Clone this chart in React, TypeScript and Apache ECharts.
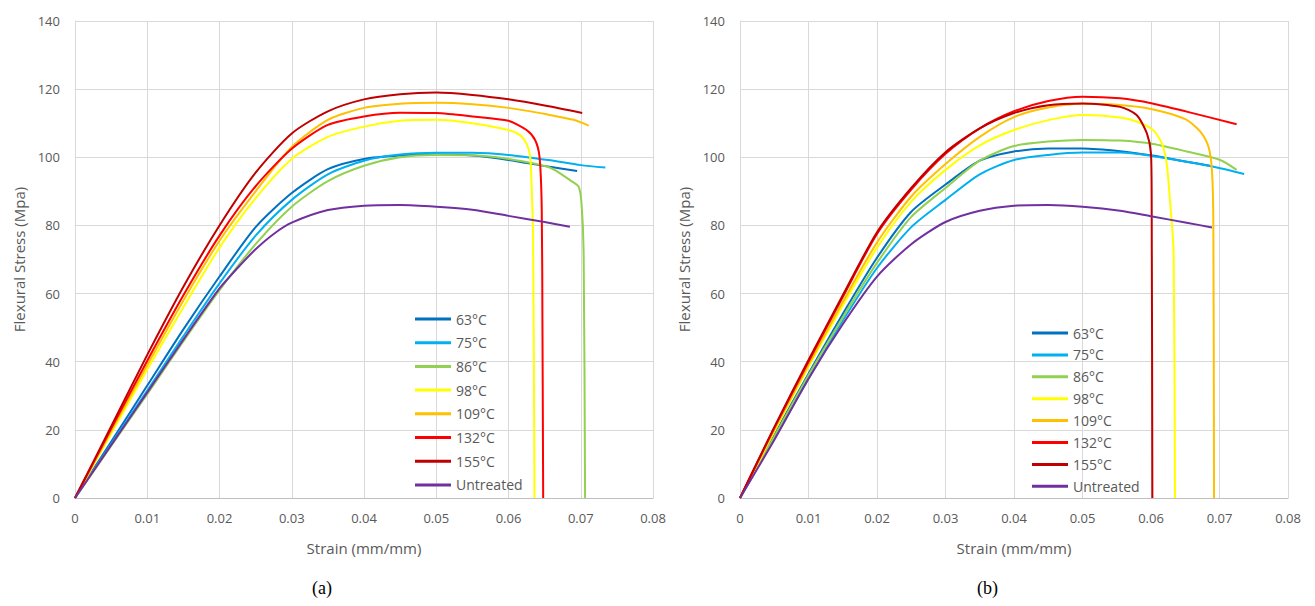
import React, { useEffect, useRef } from "react";
import * as echarts from "echarts";

// ---------- Data (strain mm/mm, flexural stress MPa) ----------
const seriesNames = ["63°C", "75°C", "86°C", "98°C", "109°C", "132°C", "155°C", "Untreated"];
const seriesColors = ["#0070C0", "#00B0F0", "#92D050", "#FFFF00", "#FFC000", "#FF0000", "#C00000", "#7030A0"];
const xTicks = [0, 0.01, 0.02, 0.03, 0.04, 0.05, 0.06, 0.07, 0.08];
const yTicks = [0, 20, 40, 60, 80, 100, 120, 140];

// Chart (a)
const a63 = [[0, 0], [0.005, 16.5], [0.01, 33], [0.015, 49.5], [0.02, 65], [0.025, 79.5], [0.03, 89.5], [0.035, 96.5], [0.04, 99.5], [0.045, 100.5], [0.05, 100.8], [0.055, 100.5], [0.06, 99.2], [0.0657, 97.2], [0.0695, 96]];
const a75 = [[0, 0], [0.005, 15.8], [0.01, 31.5], [0.015, 47.5], [0.02, 63], [0.025, 77], [0.03, 87.5], [0.035, 95], [0.04, 99], [0.045, 100.8], [0.05, 101.3], [0.055, 101.3], [0.06, 100.7], [0.0655, 99.2], [0.07, 97.7], [0.0734, 97]];
const a86 = [[0, 0], [0.005, 15.3], [0.01, 30.5], [0.015, 46], [0.02, 61], [0.025, 74.5], [0.03, 85.5], [0.035, 93], [0.04, 97.5], [0.045, 100], [0.05, 100.7], [0.055, 100.6], [0.06, 99.5], [0.0657, 97], [0.0685, 93.3], [0.0697, 91.4], [0.0701, 86.6], [0.0704, 72], [0.0706, 0]];
const a98 = [[0, 0], [0.005, 18.9], [0.01, 37.7], [0.015, 56], [0.02, 73.5], [0.025, 88], [0.03, 99.5], [0.035, 106], [0.04, 109], [0.045, 110.7], [0.05, 111], [0.055, 110], [0.06, 108], [0.0616, 106.5], [0.0625, 104], [0.063, 100.2], [0.0632, 91.4], [0.0634, 76.7], [0.0636, 0]];
const a109 = [[0, 0], [0.005, 19.6], [0.01, 39], [0.015, 58], [0.02, 75.5], [0.025, 90], [0.03, 103], [0.035, 111], [0.04, 114.5], [0.045, 115.7], [0.05, 116], [0.055, 115.6], [0.06, 114.5], [0.0653, 112.6], [0.069, 111], [0.0711, 109.3]];
const a132 = [[0, 0], [0.005, 20.3], [0.01, 40.3], [0.015, 59.5], [0.02, 77], [0.025, 91.5], [0.03, 102.5], [0.035, 109.5], [0.04, 112], [0.045, 113.1], [0.05, 113], [0.055, 112], [0.06, 110.7], [0.0625, 108], [0.0637, 105], [0.0643, 100], [0.0646, 85], [0.0647, 50], [0.0648, 0]];
const a155 = [[0, 0], [0.005, 21], [0.01, 42], [0.015, 62], [0.02, 80], [0.025, 95.5], [0.03, 107], [0.035, 113.5], [0.04, 117], [0.045, 118.5], [0.05, 119], [0.055, 118.3], [0.06, 117], [0.065, 115.2], [0.0702, 113]];
const aUnt = [[0, 0], [0.005, 15.5], [0.01, 31], [0.015, 46.5], [0.02, 61.5], [0.0225, 67.5], [0.025, 73], [0.0275, 77.5], [0.03, 80.8], [0.035, 84.5], [0.04, 85.8], [0.045, 86], [0.05, 85.5], [0.055, 84.6], [0.06, 82.8], [0.065, 81], [0.0685, 79.6]];

// Chart (b)
const b63 = [[0, 0], [0.005, 18.5], [0.01, 36.5], [0.015, 54], [0.02, 70.5], [0.025, 84], [0.03, 92], [0.035, 99], [0.04, 101.7], [0.045, 102.6], [0.05, 102.6], [0.0555, 101.8], [0.0602, 100.5], [0.0652, 98.7], [0.0686, 97.5]];
const b75 = [[0, 0], [0.005, 17.5], [0.01, 35], [0.015, 52], [0.02, 67.5], [0.025, 79.5], [0.03, 87.5], [0.035, 95], [0.04, 99.2], [0.045, 100.7], [0.05, 101.4], [0.0555, 101.4], [0.0602, 100.4], [0.0652, 98.7], [0.0701, 96.8], [0.0736, 95.1]];
const b86 = [[0, 0], [0.005, 18], [0.01, 36], [0.015, 53], [0.02, 69], [0.025, 82.5], [0.03, 91], [0.035, 99], [0.04, 103.3], [0.045, 104.6], [0.05, 105.1], [0.0555, 104.9], [0.0603, 103.9], [0.0652, 101.7], [0.0701, 99.2], [0.0725, 96.3]];
const b98 = [[0, 0], [0.005, 19.5], [0.01, 38.5], [0.015, 56.5], [0.02, 73.5], [0.025, 87], [0.03, 96.3], [0.035, 103.5], [0.04, 108], [0.045, 110.9], [0.05, 112.4], [0.0555, 111.7], [0.0579, 110.5], [0.0603, 108], [0.0616, 104], [0.0623, 98], [0.0628, 86.6], [0.0633, 72], [0.0635, 0]];
const b109 = [[0, 0], [0.005, 20], [0.01, 39], [0.015, 57.5], [0.02, 75], [0.025, 88.5], [0.03, 98], [0.035, 106], [0.04, 111.8], [0.045, 114.6], [0.05, 115.7], [0.055, 115.4], [0.06, 114.2], [0.065, 111.2], [0.0672, 107.5], [0.0684, 103], [0.0689, 96], [0.0691, 81], [0.0692, 0]];
const b132 = [[0, 0], [0.005, 20.5], [0.01, 40], [0.015, 59], [0.02, 77.5], [0.025, 90.5], [0.03, 101], [0.035, 108.5], [0.04, 113.5], [0.045, 116.5], [0.05, 117.8], [0.0555, 117.3], [0.0602, 115.8], [0.0652, 113.4], [0.0725, 109.7]];
const b155 = [[0, 0], [0.005, 20.8], [0.01, 40.5], [0.015, 59.5], [0.02, 78], [0.025, 91], [0.03, 101.5], [0.035, 108.5], [0.04, 113], [0.045, 115.3], [0.05, 115.8], [0.0555, 114.8], [0.0579, 112.4], [0.0594, 107], [0.06, 101], [0.0601, 86], [0.0602, 0]];
const bUnt = [[0, 0], [0.005, 17], [0.01, 35], [0.015, 51], [0.02, 65], [0.025, 74.5], [0.03, 81], [0.035, 84.3], [0.04, 85.8], [0.045, 86], [0.05, 85.5], [0.0555, 84.3], [0.0602, 82.6], [0.0652, 80.8], [0.0689, 79.4]];

const dataA = [a63, a75, a86, a98, a109, a132, a155, aUnt];
const dataB = [b63, b75, b86, b98, b109, b132, b155, bUnt];
const captions = ["(a)", "(b)"];

const FONT = "'Open Sans', 'Noto Sans', sans-serif";
const TEXT = "#595959";

export default function App() {
  const ref = useRef<HTMLDivElement>(null);
  useEffect(() => {
    if (!ref.current) return;
    const chart = echarts.init(ref.current, undefined, { renderer: "svg" });
    const grids = [
      { left: 75, top: 21, width: 578, height: 477 },
      { left: 740, top: 21, width: 548, height: 477 },
    ];
    const xAxes = grids.map((_, i) => ({
      type: "value",
      gridIndex: i,
      min: 0,
      max: 0.08,
      interval: 0.01,
      name: "Strain (mm/mm)",
      nameLocation: "middle",
      nameGap: 42,
      nameTextStyle: { color: TEXT, fontSize: 15, fontFamily: FONT },
      axisLine: { show: true, lineStyle: { color: "#bfbfbf", width: 1 } },
      axisTick: { show: false },
      axisLabel: {
        color: TEXT,
        fontSize: 13,
        fontFamily: FONT,
        margin: 13,
        formatter: (v: number) => {
          const t = xTicks.find((k) => Math.abs(k - v) < 1e-9);
          return t === undefined ? "" : t === 0 ? "0" : t.toFixed(2);
        },
      },
      splitLine: { show: true, lineStyle: { color: "#d9d9d9", width: 1 } },
    }));
    const yAxes = grids.map((_, i) => ({
      type: "value",
      gridIndex: i,
      min: yTicks[0],
      max: yTicks[yTicks.length - 1],
      interval: 20,
      name: "Flexural Stress (Mpa)",
      nameLocation: "middle",
      nameGap: 49,
      nameTextStyle: { color: TEXT, fontSize: 15, fontFamily: FONT },
      axisLine: { show: true, lineStyle: { color: "#d9d9d9", width: 1 } },
      axisTick: { show: false },
      axisLabel: { color: TEXT, fontSize: 13, fontFamily: FONT, margin: 15 },
      splitLine: { show: true, lineStyle: { color: "#d9d9d9", width: 1 } },
    }));
    const makeSeries = (data: number[][][], idx: number) =>
      data.map((d, k) => ({
        type: "line",
        name: seriesNames[k],
        xAxisIndex: idx,
        yAxisIndex: idx,
        data: d,
        showSymbol: false,
        symbol: "none",
        smooth: 0.25,
        color: seriesColors[k],
        lineStyle: { color: seriesColors[k], width: 2 },
        z: 2 + k,
      }));
    const legendBase = {
      orient: "vertical",
      icon: "rect",
      itemWidth: 36,
      itemHeight: 3,
      data: seriesNames,
      textStyle: { color: TEXT, fontSize: 14, fontFamily: FONT, lineHeight: 16 },
    };
    chart.setOption({
      animation: false,
      backgroundColor: "#ffffff",
      grid: grids,
      xAxis: xAxes,
      yAxis: yAxes,
      legend: [
        { ...legendBase, left: 410, top: 306, itemGap: 7.7 },
        { ...legendBase, left: 1027, top: 320, itemGap: 5.9 },
      ],
      series: [...makeSeries(dataA, 0), ...makeSeries(dataB, 1)],
      graphic: [
        { type: "text", left: 312, top: 579, style: { text: captions[0], fill: "#000", font: "18px 'Liberation Serif', 'DejaVu Serif', serif" } },
        { type: "text", left: 977, top: 579, style: { text: captions[1], fill: "#000", font: "18px 'Liberation Serif', 'DejaVu Serif', serif" } },
      ],
    });
    return () => chart.dispose();
  }, []);
  return (
    <div
      ref={ref}
      style={{ position: "fixed", left: 0, top: 0, width: 1315, height: 606, background: "#fff" }}
    />
  );
}
